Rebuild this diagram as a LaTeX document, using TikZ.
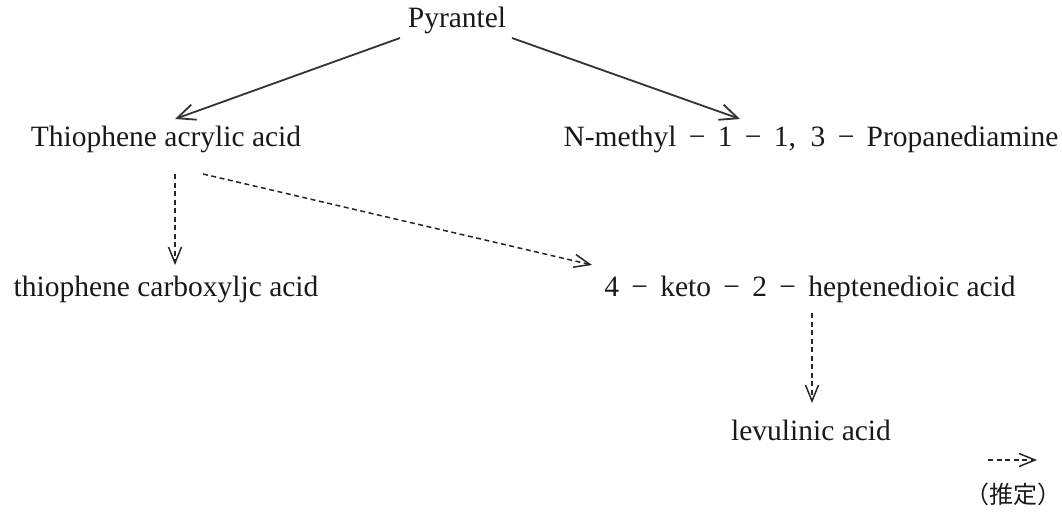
\documentclass[tikz,border=0pt]{standalone}
\usepackage{fontspec}
\setmainfont{Liberation Serif}
\newfontfamily\cjk{Noto Sans CJK JP}
\usetikzlibrary{arrows.meta,calc}
\begin{document}
\begin{tikzpicture}[x=1pt,y=-1pt,
  lbl/.style={inner sep=0pt, font=\fontsize{29.5}{34}\selectfont, text=black!90},
  conn/.style={line width=1.8pt, draw=black!80, -{Straight Barb[length=18pt,width=16pt,line width=1.8pt]}},
  dconn/.style={line width=1.5pt, draw=black!85, dash pattern=on 5pt off 3.5pt, -{Straight Barb[length=16pt,width=13pt,line width=1.5pt]}}]
\useasboundingbox (0,0) rectangle (1062,511);
\node[lbl] (pyr) at (457,20) {Pyrantel};
\node[lbl] (thio) at (166,139) {Thiophene acrylic acid};
\node[lbl] (nme) at (811,139) {N-methyl \,\textminus\, 1 \,\textminus\, 1,\ \ 3 \,\textminus\, Propanediamine};
\node[lbl] (carb) at (166,289) {thiophene carboxyljc acid};
\node[lbl] (keto) at (810,289) {4 \,\textminus\, keto \,\textminus\, 2 \,\textminus\, heptenedioic acid};
\node[lbl] (lev) at (811,430) {levulinic acid};
\coordinate (lga) at (988,460);
\coordinate (lgb) at (1037,460);
\node[lbl, font=\cjk\fontsize{24}{28}\selectfont] (legend) at (1013,494) {（推定）};
\draw[conn] ($(pyr)+(-57,18)$) -- ($(thio)+(9,-20)$);
\draw[conn] ($(pyr)+(55,18)$) -- ($(nme)+(-71,-20)$);
\draw[dconn] ($(thio)+(9,35)$) -- ($(carb)+(9,-24)$);
\draw[dconn] ($(thio)+(37,35)$) -- ($(keto)+(-218,-24)$);
\draw[dconn] ($(keto)+(2,24)$) -- ($(lev)+(1,-27)$);
\draw[dconn] (lga) -- (lgb);
\end{tikzpicture}
\end{document}
